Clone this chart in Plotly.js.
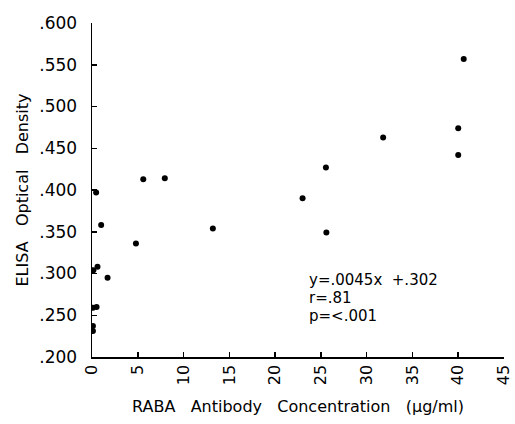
<!DOCTYPE html>
<html>
<head>
<meta charset="utf-8">
<script src="https://cdn.plot.ly/plotly-3.0.1.min.js"></script>
<style>html,body{margin:0;padding:0;background:#fff;}#chart{width:515px;height:424px;}</style>
</head>
<body>
<div id="chart"></div>
<script>
// RABA antibody concentration (ug/ml)
const concentration = [0.1, 0.1, 0.1, 0.15, 0.45, 0.5, 0.6, 1.0, 1.7, 4.8, 5.6, 7.95, 13.2, 23.0, 25.55, 25.6, 31.8, 40.0, 40.0, 40.6];
// ELISA optical density
const opticalDensity = [0.231, 0.237, 0.259, 0.304, 0.397, 0.260, 0.308, 0.358, 0.295, 0.336, 0.413, 0.414, 0.354, 0.390, 0.427, 0.349, 0.463, 0.442, 0.474, 0.557];

const xTickVals = [0, 5, 10, 15, 20, 25, 30, 35, 40, 45];
const xTickText = ["0", "5", "10", "15", "20", "25", "30", "35", "40", "45"];
const yTickVals = [0.2, 0.25, 0.3, 0.35, 0.4, 0.45, 0.5, 0.55, 0.6];
const yTickText = [".200", ".250", ".300", ".350", ".400", ".450", ".500", ".550", ".600"];
const statLines = ["y=.0045x\u00a0\u00a0+.302", "r=.81", "p=<.001"];

const FONT = "DejaVu Sans, sans-serif";
const SP = "\u00a0\u00a0\u00a0";

const trace = {
  x: concentration,
  y: opticalDensity,
  type: "scatter",
  mode: "markers",
  marker: {color: "#000", size: 6},
  hoverinfo: "none"
};

const statY = [0.2917, 0.2707, 0.2497];
const annotations = statLines.map((t, i) => ({
  text: t, x: 23.6, y: statY[i], xref: "x", yref: "y",
  xanchor: "left", yanchor: "middle", showarrow: false, borderpad: 0,
  font: {family: FONT, size: 15, color: "#000"}
}));

const layout = {
  width: 515, height: 424,
  margin: {l: 92, r: 11, t: 23, b: 67, pad: 0},
  paper_bgcolor: "#fff", plot_bgcolor: "#fff",
  showlegend: false,
  font: {family: FONT, color: "#000"},
  xaxis: {
    range: [0, 45], showgrid: false, zeroline: false,
    showline: true, linecolor: "#000", linewidth: 1.5,
    ticks: "inside", ticklen: 5, tickwidth: 1.5, tickcolor: "#000",
    tickmode: "array", tickvals: xTickVals, ticktext: xTickText,
    tickangle: -90, tickfont: {family: FONT, size: 16, color: "#000"},
    ticklabeloverflow: "allow",
    title: {text: "RABA" + SP + "Antibody" + SP + "Concentration" + SP + "(\u03bcg/ml)", font: {family: FONT, size: 16, color: "#000"}, standoff: 16}
  },
  yaxis: {
    range: [0.2, 0.6], showgrid: false, zeroline: false,
    showline: true, linecolor: "#000", linewidth: 1.5,
    ticks: "inside", ticklen: 5, tickwidth: 1.5, tickcolor: "#000",
    tickmode: "array", tickvals: yTickVals, ticktext: yTickText,
    tickfont: {family: FONT, size: 17, color: "#000"},
    ticklabelstandoff: 10,
    title: {text: "ELISA" + SP + "Optical" + SP + "Density", font: {family: FONT, size: 16, color: "#000"}, standoff: 6}
  },
  annotations: annotations
};

Plotly.newPlot("chart", [trace], layout, {staticPlot: true, displayModeBar: false});
</script>
</body>
</html>
